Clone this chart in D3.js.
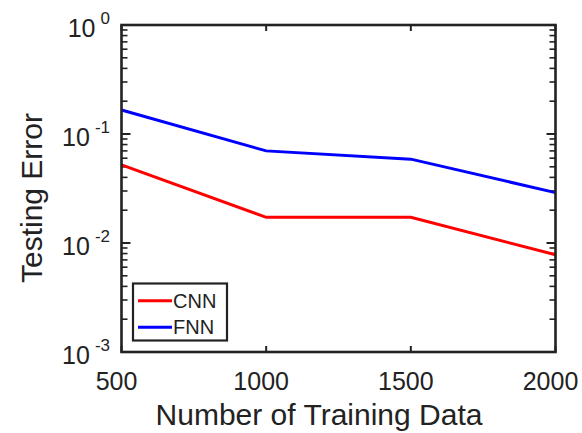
<!DOCTYPE html>
<html><head><meta charset="utf-8">
<script src="https://cdn.jsdelivr.net/npm/d3@7"></script>
<style>body{margin:0;background:#fff}svg{display:block}text{font-family:"Liberation Sans",Arial,sans-serif}</style>
</head><body><svg id="c" width="582" height="433"></svg>
<script>
const trainingSizes = [500, 1000, 1500, 2000];
const cnnError = [0.052, 0.0172, 0.0172, 0.0078];
const fnnError = [0.166, 0.070, 0.0588, 0.029];
const seriesNames = ["CNN", "FNN"];
const seriesColors = ["#ff0000", "#0000ff"];
const xTicks = [500, 1000, 1500, 2000];
const yTickExps = [0, -1, -2, -3];

const svg = d3.select("#c");
const L = 121.5, R = 555.5, T = 25, B = 352;
const x = d3.scaleLinear().domain([500, 2000]).range([L, R]);
const y = d3.scaleLog().domain([1e-3, 1]).range([B, T]);
const ink = "#222";

const minor = [];
for (let e = -3; e < 0; e++) for (let m = 2; m <= 9; m++) minor.push(m * Math.pow(10, e));
const g = svg.append("g");
minor.forEach(v => {
  g.append("line").attr("x1", L).attr("x2", L + 6).attr("y1", y(v)).attr("y2", y(v)).attr("stroke", ink).attr("stroke-width", 1.6);
  g.append("line").attr("x1", R).attr("x2", R - 6).attr("y1", y(v)).attr("y2", y(v)).attr("stroke", ink).attr("stroke-width", 1.6);
});
yTickExps.forEach(e => {
  const v = Math.pow(10, e);
  g.append("line").attr("x1", L).attr("x2", L + 9).attr("y1", y(v)).attr("y2", y(v)).attr("stroke", ink).attr("stroke-width", 2);
  g.append("line").attr("x1", R).attr("x2", R - 9).attr("y1", y(v)).attr("y2", y(v)).attr("stroke", ink).attr("stroke-width", 2);
  const t = g.append("text").attr("x", 110).attr("y", y(v) + 12).attr("text-anchor", "end").attr("fill", "#222").attr("font-size", 25);
  t.append("tspan").text("10");
  t.append("tspan").attr("dx", 5).attr("dy", -13).attr("font-size", 17).text(String(e));
});
xTicks.forEach(v => {
  g.append("line").attr("x1", x(v)).attr("x2", x(v)).attr("y1", B).attr("y2", B - 6).attr("stroke", ink).attr("stroke-width", 2);
  g.append("line").attr("x1", x(v)).attr("x2", x(v)).attr("y1", T).attr("y2", T + 6).attr("stroke", ink).attr("stroke-width", 2);
  g.append("text").attr("x", x(v) - 5).attr("y", 390).attr("text-anchor", "middle").attr("fill", "#222").attr("font-size", 25).text(v);
});

const line = d3.line().x((d, i) => x(trainingSizes[i])).y(d => y(d));
[cnnError, fnnError].forEach((s, k) => {
  svg.append("path").attr("d", line(s)).attr("fill", "none").attr("stroke", seriesColors[k]).attr("stroke-width", 3);
});

svg.append("rect").attr("x", L).attr("y", T).attr("width", R - L).attr("height", B - T).attr("fill", "none").attr("stroke", ink).attr("stroke-width", 2.6);

svg.append("text").attr("x", 319).attr("y", 425).attr("text-anchor", "middle").attr("font-size", 30).attr("fill", "#222").text("Number of Training Data");
svg.append("text").attr("transform", "translate(42,198) rotate(-90)").attr("text-anchor", "middle").attr("font-size", 30).attr("fill", "#222").text("Testing Error");

const lg = svg.append("g");
lg.append("rect").attr("x", 133).attr("y", 283.5).attr("width", 94).attr("height", 57).attr("fill", "#fff").attr("stroke", ink).attr("stroke-width", 2.2);
seriesNames.forEach((n, k) => {
  const yy = 300.7 + k * 26.5;
  lg.append("line").attr("x1", 138).attr("x2", 172).attr("y1", yy).attr("y2", yy).attr("stroke", seriesColors[k]).attr("stroke-width", 3);
  lg.append("text").attr("x", 173).attr("y", yy + 7).attr("font-size", 20).attr("fill", "#222").text(n);
});
</script></body></html>
